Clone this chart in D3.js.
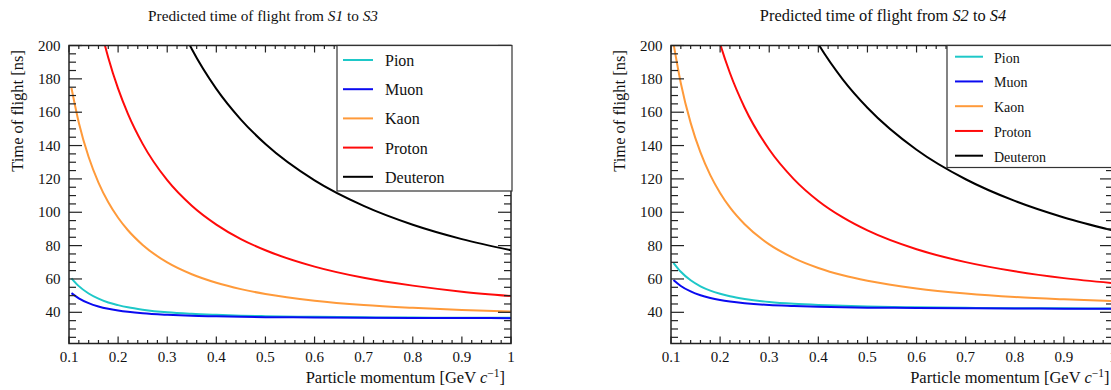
<!DOCTYPE html>
<html>
<head>
<meta charset="utf-8">
<script src="https://cdn.jsdelivr.net/npm/d3@7"></script>
<style>
  body { margin: 0; background: #fff; }
</style>
</head>
<body>
<svg id="chart" width="1111" height="390"></svg>
<script>
// momentum grid [GeV/c] shared by all curves
const momentum = [0.105, 0.12, 0.14, 0.16, 0.18, 0.2, 0.22, 0.25, 0.3, 0.35, 0.4, 0.45, 0.5, 0.6, 0.7, 0.8, 0.9, 1.0]

// time of flight S1 -> S3 [ns]
const pionS1S3 = [60.4, 55.7, 51.3, 48.2, 45.9, 44.3, 43.0, 41.6, 40.0, 39.1, 38.5, 38.0, 37.7, 37.3, 37.0, 36.9, 36.7, 36.7]
const muonS1S3 = [51.5, 48.4, 45.5, 43.5, 42.1, 41.1, 40.3, 39.4, 38.5, 37.9, 37.6, 37.3, 37.1, 36.9, 36.7, 36.6, 36.6, 36.5]
const kaonS1S3 = [174.5, 153.7, 133.1, 117.8, 106.0, 96.7, 89.2, 80.4, 69.9, 62.8, 57.7, 53.9, 51.0, 47.0, 44.4, 42.7, 41.4, 40.5]
const protonS1S3 = [null, null, 246.0, 215.9, 192.7, 174.1, 159.0, 141.0, 119.2, 103.9, 92.6, 83.9, 77.2, 67.4, 60.7, 56.0, 52.4, 49.8]
const deuteronS1S3 = [null, null, null, null, null, null, null, null, 229.8, 197.9, 174.0, 155.6, 140.9, 119.1, 103.8, 92.5, 83.9, 77.2]

// time of flight S2 -> S4 [ns]
const pionS2S4 = [69.7, 64.3, 59.2, 55.6, 53.0, 51.1, 49.6, 48.0, 46.2, 45.1, 44.4, 43.9, 43.5, 43.0, 42.7, 42.5, 42.4, 42.3]
const muonS2S4 = [59.4, 55.8, 52.5, 50.2, 48.6, 47.4, 46.5, 45.5, 44.4, 43.8, 43.3, 43.0, 42.8, 42.6, 42.4, 42.3, 42.2, 42.1]
const kaonS2S4 = [201.4, 177.4, 153.6, 135.9, 122.3, 111.6, 102.9, 92.8, 80.7, 72.5, 66.6, 62.2, 58.9, 54.3, 51.3, 49.2, 47.8, 46.7]
const protonS2S4 = [null, null, null, null, 222.4, 201.0, 183.5, 162.7, 137.6, 119.9, 106.8, 96.9, 89.1, 77.8, 70.1, 64.6, 60.5, 57.5]
const deuteronS2S4 = [null, null, null, null, null, null, null, null, null, 228.4, 200.9, 179.6, 162.7, 137.5, 119.8, 106.8, 96.9, 89.1]

const particles = ['Pion', 'Muon', 'Kaon', 'Proton', 'Deuteron']
const colors = ['#1ec8c8', '#0a0af0', '#ff9a3a', '#ff0a0a', '#000000']

const xTicks = [0.1, 0.2, 0.3, 0.4, 0.5, 0.6, 0.7, 0.8, 0.9, 1.0]
const yTicks = [40, 60, 80, 100, 120, 140, 160, 180, 200]
const xDomain = [0.1, 1.0],
    yDomain = [21.3, 200]

const svg = d3.select('#chart')
    .style('font-family', '"Liberation Serif", "Times New Roman", serif')

const panels = [
    { id: 'a', from: 'S1', to: 'S3', series: [pionS1S3, muonS1S3, kaonS1S3, protonS1S3, deuteronS1S3],
      left: 69, right: 511, titleX: 263, titleSize: 15.3, xLabelEnd: 505,
      legend: { x: 337, w: 175, h: 145.5, row: 29.2, first: 60, font: 16, line: [6, 36], text: 48 } },
    { id: 'b', from: 'S2', to: 'S4', series: [pionS2S4, muonS2S4, kaonS2S4, protonS2S4, deuteronS2S4],
      left: 671, right: 1113, titleX: 883, titleSize: 16.4, xLabelEnd: 1109.5,
      legend: { x: 947, w: 170, h: 122, row: 24.75, first: 56.7, font: 14, line: [8, 36], text: 47 } }
]

const plotTop = 45.5, plotBottom = 343.5

panels.forEach(drawPanel)

function drawPanel(p) {
    const x = d3.scaleLinear().domain(xDomain).range([p.left, p.right])
    const y = d3.scaleLinear().domain(yDomain).range([plotBottom, plotTop])

    const g = svg.append('g').attr('fill', '#111')

    g.append('clipPath').attr('id', 'clip-' + p.id)
        .append('rect')
        .attr('x', p.left).attr('y', plotTop)
        .attr('width', p.right - p.left).attr('height', plotBottom - plotTop)

    // title
    const title = g.append('text')
        .attr('x', p.titleX).attr('y', 21)
        .attr('text-anchor', 'middle')
        .style('font-size', p.titleSize + 'px')
    title.append('tspan').text('Predicted time of flight from ')
    title.append('tspan').style('font-style', 'italic').text(p.from)
    title.append('tspan').text(' to ')
    title.append('tspan').style('font-style', 'italic').text(p.to)

    // curves
    const line = d3.line()
        .defined((d) => d[1] != null)
        .x((d) => x(d[0]))
        .y((d) => y(d[1]))
        .curve(d3.curveMonotoneX)

    g.append('g')
        .attr('clip-path', `url(#clip-${p.id})`)
        .selectAll('path')
        .data(p.series)
        .enter().append('path')
        .attr('d', (vals) => line(momentum.map((m, i) => [m, vals[i]])))
        .attr('fill', 'none')
        .attr('stroke', (d, i) => colors[i])
        .attr('stroke-width', 2)

    // ticks, drawn inward on all four sides
    const ticks = g.append('g').attr('stroke', '#222').attr('stroke-width', 1.2)
    const xMinor = d3.range(0, 46).map((i) => 0.1 + i * 0.02).filter((v) => v <= 1.0001)
    xMinor.forEach(function(v) {
        const major = Math.abs(Math.round(v * 10) - v * 10) < 1e-6
        const len = major ? 7 : 3.5
        ticks.append('line').attr('x1', x(v)).attr('x2', x(v)).attr('y1', plotBottom).attr('y2', plotBottom - len)
        ticks.append('line').attr('x1', x(v)).attr('x2', x(v)).attr('y1', plotTop).attr('y2', plotTop + len)
    })
    const yMinor = d3.range(25, 201, 5)
    yMinor.forEach(function(v) {
        const len = v % 20 === 0 ? 13 : 7
        ticks.append('line').attr('x1', p.left).attr('x2', p.left + len).attr('y1', y(v)).attr('y2', y(v))
        ticks.append('line').attr('x1', p.right).attr('x2', p.right - len).attr('y1', y(v)).attr('y2', y(v))
    })

    // tick labels
    g.append('g').selectAll('text')
        .data(xTicks)
        .enter().append('text')
        .attr('x', (d) => x(d))
        .attr('y', plotBottom + 18.5)
        .attr('text-anchor', 'middle')
        .style('font-size', '15px')
        .text((d) => d === 1 ? '1' : d3.format('.1f')(d))

    g.append('g').selectAll('text')
        .data(yTicks)
        .enter().append('text')
        .attr('x', p.left - 8.5)
        .attr('y', (d) => y(d) + 5)
        .attr('text-anchor', 'end')
        .style('font-size', '15px')
        .text((d) => d)

    // axis titles
    const xl = g.append('text')
        .attr('x', p.xLabelEnd).attr('y', 383)
        .attr('text-anchor', 'end')
        .style('font-size', '16.5px')
    xl.append('tspan').text('Particle momentum [GeV ')
    xl.append('tspan').style('font-style', 'italic').text('c')
    xl.append('tspan').attr('dy', -6).style('font-size', '11.5px').text('\u22121')
    xl.append('tspan').attr('dy', 6).text(']')

    g.append('text')
        .attr('transform', `translate(${p.left - 46.5}, 50) rotate(-90)`)
        .attr('text-anchor', 'end')
        .style('font-size', '16.5px')
        .text('Time of flight [ns]')

    // frame
    g.append('rect')
        .attr('x', p.left).attr('y', plotTop)
        .attr('width', p.right - p.left).attr('height', plotBottom - plotTop)
        .attr('fill', 'none')
        .attr('stroke', '#222')
        .attr('stroke-width', 1.5)

    // legend
    const L = p.legend
    const lg = g.append('g')
    lg.append('rect')
        .attr('x', L.x).attr('y', plotTop)
        .attr('width', L.w).attr('height', L.h)
        .attr('fill', '#fff')
        .attr('stroke', '#333')
        .attr('stroke-width', 1.2)

    const item = lg.selectAll('g.item')
        .data(particles)
        .enter().append('g')
        .attr('class', 'item')
        .attr('transform', (d, i) => `translate(${L.x}, ${L.first + i * L.row})`)

    item.append('line')
        .attr('x1', L.line[0]).attr('x2', L.line[1])
        .attr('stroke', (d, i) => colors[i])
        .attr('stroke-width', 2)

    item.append('text')
        .attr('x', L.text).attr('y', 6)
        .style('font-size', L.font + 'px')
        .text((d) => d)
}
</script>
</body>
</html>
